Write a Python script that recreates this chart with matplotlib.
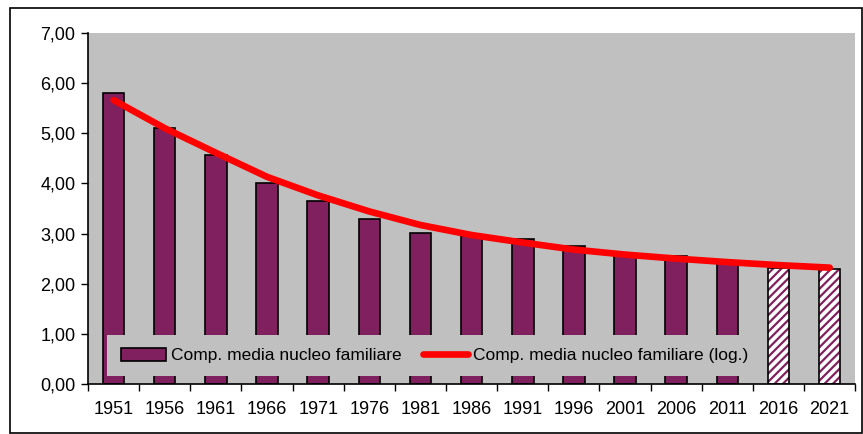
import numpy as np
import matplotlib.pyplot as plt
from matplotlib.patches import Rectangle

plt.rcParams['font.family'] = ['Liberation Sans', 'DejaVu Sans']
plt.rcParams['hatch.linewidth'] = 1.6

anni = ['1951', '1956', '1961', '1966', '1971', '1976', '1981', '1986',
        '1991', '1996', '2001', '2006', '2011', '2016', '2021']
componenti = [5.80, 5.11, 4.57, 4.01, 3.65, 3.29, 3.01, 2.95,
              2.89, 2.75, 2.59, 2.55, 2.41, 2.31, 2.29]
stimati = [False] * 13 + [True, True]
tendenza = [5.66, 5.10, 4.61, 4.13, 3.76, 3.44, 3.17, 2.97,
            2.82, 2.68, 2.58, 2.50, 2.43, 2.37, 2.32]

viola = '#80205F'
x = np.arange(len(anni))

fig = plt.figure(figsize=(8.63, 4.34), dpi=100)
fig.patches.append(Rectangle((10/863, 1/434), 852/863, 425/434, transform=fig.transFigure,
                             fill=False, edgecolor='black', linewidth=1.2))
ax = fig.add_axes([0.102, 0.1152, 0.889, 0.809])
ax.set_facecolor('#C0C0C0')

reali = [i for i in x if not stimati[i]]
prev = [i for i in x if stimati[i]]
barre = ax.bar(reali, [componenti[i] for i in reali], width=0.42, color=viola,
               edgecolor='black', linewidth=1.2, label='Comp. media nucleo familiare', zorder=2)
ax.bar(prev, [componenti[i] for i in prev], width=0.42, color='white',
       edgecolor=viola, hatch='////', linewidth=0, zorder=2)
ax.bar(prev, [componenti[i] for i in prev], width=0.42, fill=False,
       edgecolor='black', linewidth=1.2, zorder=3)
linea, = ax.plot(x, tendenza, color='red', linewidth=4.8, solid_capstyle='round',
                 solid_joinstyle='round', label='Comp. media nucleo familiare (log.)', zorder=4)

ax.set_xlim(-0.5, len(anni) - 0.5)
ax.set_ylim(0, 7)
ax.set_yticks(np.arange(0, 8, 1))
ax.set_yticklabels(['%d,00' % v for v in range(8)], fontsize=13)
ax.set_xticks(x)
ax.set_xticklabels(anni, fontsize=13)
ax.set_xticks(np.arange(-0.5, len(anni), 1), minor=True)
ax.tick_params(axis='x', which='major', length=0, pad=12)
ax.tick_params(axis='x', which='minor', length=5, direction='out', width=1)
ax.tick_params(axis='y', length=5, direction='out', width=1, pad=4)
for s in ['top', 'right']:
    ax.spines[s].set_visible(False)
ax.spines['left'].set_linewidth(1.2)
ax.spines['bottom'].set_linewidth(1.2)

# fondo grigio della legenda sopra le barre
ax.add_patch(Rectangle((0.025, 0.022), 0.86, 0.118, transform=ax.transAxes,
                       facecolor='#C0C0C0', edgecolor='none', zorder=5))
leg = ax.legend([barre, linea], [barre.get_label(), linea.get_label()],
                loc='center left', bbox_to_anchor=(0.043, 0.081), ncol=2,
                fontsize=12.5, frameon=False, handlelength=2.6, handleheight=0.8,
                handletextpad=0.3, columnspacing=1.2, borderaxespad=0, borderpad=0)
leg.set_zorder(6)

fig.savefig('out.png', dpi=100)
